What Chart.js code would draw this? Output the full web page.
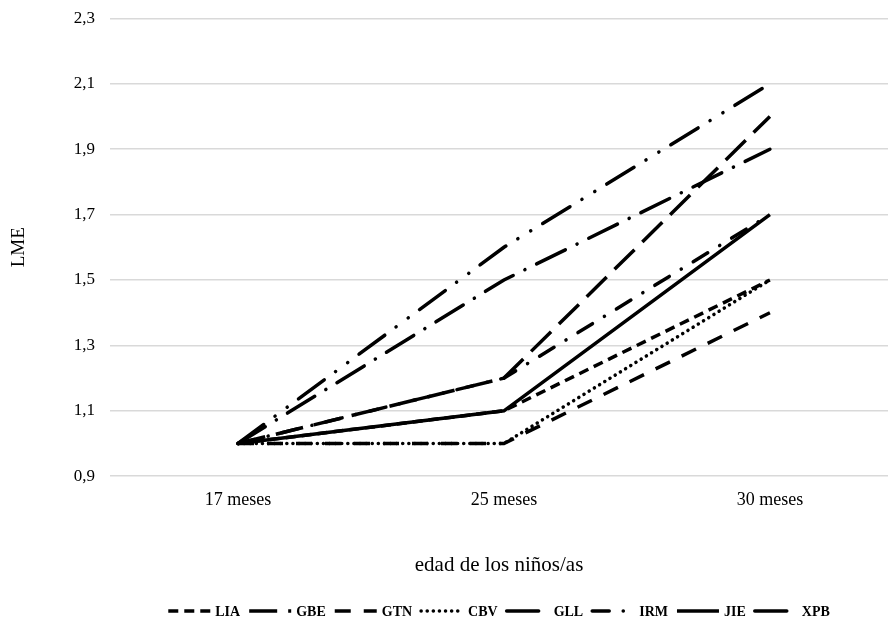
<!DOCTYPE html>
<html>
<head>
<meta charset="utf-8">
<script src="https://cdn.jsdelivr.net/npm/chart.js@4/dist/chart.umd.min.js"></script>
<style>
  html, body { margin: 0; padding: 0; background: #fff; overflow: hidden; }
  #wrap { width: 888px; height: 625px; }
</style>
</head>
<body>
<div id="wrap"><canvas id="lmeChart"></canvas></div>
<script>
// categories (edad)
var edades = ['17 meses', '25 meses', '30 meses'];

// LME per child
var LIA = [1.0, 1.1, 1.5];
var GBE = [1.0, 1.2, 2.0];
var GTN = [1.0, 1.0, 1.4];
var CBV = [1.0, 1.0, 1.5];
var GLL = [1.0, 1.5, 1.9];
var IRM = [1.0, 1.2, 1.7];
var JIE = [1.0, 1.1, 1.7];
var XPB = [1.0, 1.6, 2.1];

var yTicks = [0.9, 1.1, 1.3, 1.5, 1.7, 1.9, 2.1, 2.3];

var SAMPLE_W = 42;
var LINE_W = 3.5;

function pts(vals) {
    return vals.map(function(v, i) { return { x: i, y: v }; });
}

function serie(name, vals, dash, cap) {
    return {
        label: name,
        data: pts(vals),
        borderColor: '#000',
        backgroundColor: 'rgba(0,0,0,0)',
        borderWidth: LINE_W,
        borderDash: dash,
        borderCapStyle: cap || 'butt',
        pointRadius: 0,
        pointHoverRadius: 0,
        tension: 0,
        fill: false
    };
}

// hand-drawn legend, centred under the plot area, so dash patterns show
var legendLines = {
    id: 'legendLines',
    afterDraw: function(chart) {
        var c = chart.ctx;
        var area = chart.chartArea;
        var sets = chart.data.datasets;
        var gap = 5, spacing = 9;
        c.save();
        c.font = 'bold 14px "Liberation Serif"';
        var widths = sets.map(function(ds) { return c.measureText(ds.label).width; });
        var total = 0;
        widths.forEach(function(w) { total += SAMPLE_W + gap + w; });
        total += spacing * (sets.length - 1);
        var x = (area.left + area.right) / 2 - total / 2;
        var y = 611;
        c.textBaseline = 'middle';
        c.fillStyle = '#000';
        sets.forEach(function(ds, i) {
            c.strokeStyle = '#000';
            c.lineWidth = LINE_W;
            c.lineCap = ds.borderCapStyle;
            c.setLineDash(ds.borderDash);
            c.beginPath();
            c.moveTo(x, y);
            c.lineTo(x + SAMPLE_W, y);
            c.stroke();
            c.setLineDash([]);
            c.fillText(ds.label, x + SAMPLE_W + gap, y + 1);
            x += SAMPLE_W + gap + widths[i] + spacing;
        });
        c.restore();
    }
};

window.onload = function() {
    var ctx = document.getElementById('lmeChart').getContext('2d');
    var chart = new Chart(ctx, {
        type: 'line',
        data: {
            datasets: [
                serie('LIA', LIA, [10, 6]),
                serie('GBE', GBE, [28, 11]),
                serie('GTN', GTN, [16, 13]),
                serie('CBV', CBV, [0.1, 6], 'round'),
                serie('GLL', GLL, [32, 13, 0.1, 13], 'round'),
                serie('IRM', IRM, [17, 14, 0.1, 14], 'round'),
                serie('JIE', JIE, []),
                serie('XPB', XPB, [32, 14, 0.1, 15, 0.1, 14], 'round')
            ]
        },
        plugins: [legendLines],
        options: {
            responsive: true,
            maintainAspectRatio: false,
            animation: false,
            layout: { padding: { top: 0, left: 8, right: 0, bottom: 35 } },
            plugins: {
                tooltip: { enabled: false },
                legend: { display: false }
            },
            scales: {
                x: {
                    type: 'linear',
                    min: -0.481,
                    max: 2.444,
                    afterBuildTicks: function(axis) {
                        axis.ticks = edades.map(function(_, i) { return { value: i }; });
                    },
                    ticks: {
                        color: '#000',
                        padding: 5,
                        font: { family: 'Liberation Serif', size: 18 },
                        callback: function(v) { return edades[v]; }
                    },
                    grid: { display: false },
                    border: { display: false },
                    title: {
                        display: true,
                        text: 'edad de los niños/as',
                        color: '#000',
                        padding: { top: 37, bottom: 12 },
                        font: { family: 'Liberation Serif', size: 21 }
                    }
                },
                y: {
                    min: 0.9,
                    max: 2.3,
                    afterBuildTicks: function(axis) {
                        axis.ticks = yTicks.map(function(v) { return { value: v }; });
                    },
                    ticks: {
                        color: '#000',
                        padding: 15,
                        font: { family: 'Liberation Serif', size: 17, lineHeight: 0.4 },
                        callback: function(v) { return v.toFixed(1).replace('.', ','); }
                    },
                    grid: { color: '#d9d9d9', lineWidth: 1.5, drawTicks: false },
                    border: { display: false },
                    title: {
                        display: true,
                        text: 'LME',
                        color: '#000',
                        padding: { top: 0, bottom: 28 },
                        font: { family: 'Liberation Serif', size: 19 }
                    }
                }
            }
        }
    });
};
</script>
</body>
</html>
